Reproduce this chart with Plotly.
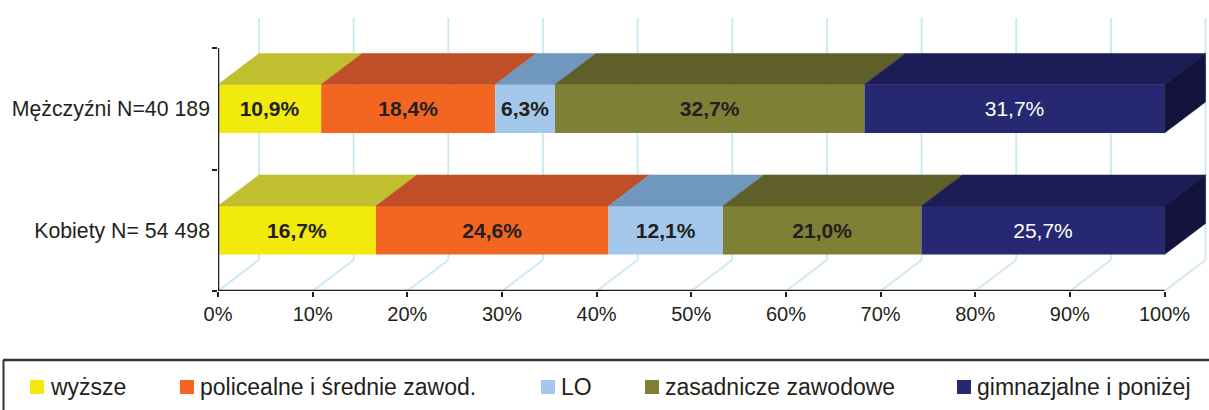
import plotly.graph_objects as go
import numpy as np

# ---- data ----
categories = ["Kobiety N= 54 498", "Mężczyźni N=40 189"]
series_names = ["wyższe", "policealne i średnie zawod.", "LO", "zasadnicze zawodowe", "gimnazjalne i poniżej"]
kobiety = [16.7, 24.6, 12.1, 21.0, 25.7]
mezczyzni = [10.9, 18.4, 6.3, 32.7, 31.7]
x_ticks = [0, 10, 20, 30, 40, 50, 60, 70, 80, 90, 100]
x_ticklabels = [f"{t}%" for t in x_ticks]

# ---- styles ----
front_colors = ["#f2ea0d", "#f36622", "#a3c8eb", "#7f7f35", "#262872"]
top_colors = ["#bfbf2f", "#c04f27", "#7098bf", "#5f5f29", "#1c1c57"]
side_color = "#13133b"
label_colors = ["#231f20", "#231f20", "#231f20", "#231f20", "#ffffff"]
label_bold = [True, True, True, True, False]
grid_color = "#cdeaf3"
axis_color = "#231f20"
FONT = "Liberation Sans, Arial, sans-serif"

W, H = 1209, 410
ML, PLOT_H = 218, 291
KX = 9.465          # px per % unit
KY = 121.5          # px per category unit
PLOT_W = W - ML
XMAX = PLOT_W / KX
YMIN = -0.5
YMAX = YMIN + PLOT_H / KY
DX = 41 / KX        # depth offset (x)
DY = 31 / KY        # depth offset (y)
Y_GRID_TOP = YMIN + (PLOT_H - 18) / KY
BW = 0.4            # bar thickness

data_rows = [kobiety, mezczyzni]
ypos = list(range(len(categories)))

fig = go.Figure()

# cumulative positions normalised to 100 %
lefts, rights = [], []
for row in data_rows:
    arr = np.array(row, dtype=float)
    c = np.cumsum(arr) / arr.sum() * 100
    lefts.append(np.concatenate([[0], c[:-1]]))
    rights.append(c)

def fmt(v):
    return f"{v:.1f}".replace(".", ",") + "%"

# front faces (bars)
for j, name in enumerate(series_names):
    xs = [rights[i][j] - lefts[i][j] for i in ypos]
    bases = [lefts[i][j] for i in ypos]
    vals = [data_rows[i][j] for i in ypos]
    txt = [(f"<b>{fmt(v)}</b>" if label_bold[j] else fmt(v)) for v in vals]
    fig.add_trace(go.Bar(
        y=ypos, x=xs, base=bases, orientation="h", width=BW,
        marker=dict(color=front_colors[j], line=dict(width=0)),
        text=txt, textposition="inside", insidetextanchor="middle",
        textangle=0, constraintext="none",
        textfont=dict(family=FONT, size=21, color=label_colors[j]),
        name=name, showlegend=False, hoverinfo="skip",
    ))

# top faces
for j, name in enumerate(series_names):
    px_, py_ = [], []
    for i in ypos:
        l, r = lefts[i][j], rights[i][j]
        yt = ypos[i] + BW / 2
        px_ += [l, r, r + DX, l + DX, l, None]
        py_ += [yt, yt, yt + DY, yt + DY, yt, None]
    fig.add_trace(go.Scatter(
        x=px_, y=py_, mode="lines", fill="toself", fillcolor=top_colors[j],
        line=dict(width=0.5, color=top_colors[j]), showlegend=False, hoverinfo="skip",
    ))

# right side face of last segment
sx, sy = [], []
for i in ypos:
    r = rights[i][-1]
    yb, yt = ypos[i] - BW / 2, ypos[i] + BW / 2
    sx += [r, r, r + DX, r + DX, r, None]
    sy += [yb, yt, yt + DY, yb + DY, yb, None]
fig.add_trace(go.Scatter(
    x=sx, y=sy, mode="lines", fill="toself", fillcolor=side_color,
    line=dict(width=0.5, color=side_color), showlegend=False, hoverinfo="skip",
))

shapes = []
# back-wall + floor gridlines
for t in x_ticks:
    shapes.append(dict(type="line", xref="x", yref="y", x0=t, y0=YMIN, x1=t + DX, y1=YMIN + DY,
                       line=dict(color=grid_color, width=2), layer="below"))
    shapes.append(dict(type="line", xref="x", yref="y", x0=t + DX, y0=YMIN + DY, x1=t + DX, y1=Y_GRID_TOP,
                       line=dict(color=grid_color, width=2), layer="below"))
# axis lines
shapes.append(dict(type="line", xref="x", yref="y", x0=0, y0=YMIN, x1=0, y1=len(categories) - 0.5,
                   line=dict(color=axis_color, width=2.5), layer="above"))
shapes.append(dict(type="line", xref="x", yref="y", x0=0, y0=YMIN, x1=x_ticks[-1], y1=YMIN,
                   line=dict(color=axis_color, width=2.5), layer="above"))

# manual legend
def pxx(p):
    return (p - ML) / PLOT_W
def pxy(p):
    return (PLOT_H - p) / PLOT_H

legend_x = [30, 180, 541, 645, 957]
LEG_Y = 387
SQ = 14
annotations = []
shapes.append(dict(type="line", xref="paper", yref="paper", x0=pxx(3), x1=pxx(W + 5), y0=pxy(360), y1=pxy(360),
                   line=dict(color="#333333", width=2.5)))
shapes.append(dict(type="line", xref="paper", yref="paper", x0=pxx(3.5), x1=pxx(3.5), y0=pxy(360), y1=pxy(H + 5),
                   line=dict(color="#333333", width=2)))
for j, name in enumerate(series_names):
    x0 = legend_x[j]
    shapes.append(dict(type="rect", xref="paper", yref="paper",
                       x0=pxx(x0), x1=pxx(x0 + SQ), y0=pxy(LEG_Y - SQ / 2), y1=pxy(LEG_Y + SQ / 2),
                       fillcolor=front_colors[j], line=dict(width=0)))
    annotations.append(dict(xref="paper", yref="paper", x=pxx(x0 + SQ + 4), y=pxy(LEG_Y),
                            text=name, showarrow=False, xanchor="left", yanchor="middle",
                            font=dict(family=FONT, size=23, color="#231f20")))

fig.update_layout(
    width=W, height=H,
    margin=dict(l=ML, r=0, t=0, b=H - PLOT_H, pad=0),
    paper_bgcolor="white", plot_bgcolor="white",
    barmode="overlay", showlegend=False,
    shapes=shapes, annotations=annotations,
    font=dict(family=FONT, color="#231f20"),
    xaxis=dict(range=[0, XMAX], tickmode="array", tickvals=x_ticks, ticktext=x_ticklabels,
               ticks="outside", ticklen=5, tickwidth=2, tickcolor=axis_color,
               showgrid=False, zeroline=False, showline=False,
               tickfont=dict(family=FONT, size=20, color="#231f20"), fixedrange=True),
    yaxis=dict(range=[YMIN, YMAX], tickmode="array", tickvals=ypos, ticktext=categories,
               ticks="", showgrid=False, zeroline=False, showline=False, ticklabelstandoff=7,
               minor=dict(tickmode="array", tickvals=[k - 0.5 for k in range(len(categories) + 1)],
                          ticks="outside", ticklen=5, tickwidth=2, tickcolor=axis_color),
               tickfont=dict(family=FONT, size=21.3, color="#231f20"), fixedrange=True),
)

fig.write_html("out.html", config={"displayModeBar": False},
               post_script="document.body.style.margin='0';document.body.style.overflow='hidden';")
